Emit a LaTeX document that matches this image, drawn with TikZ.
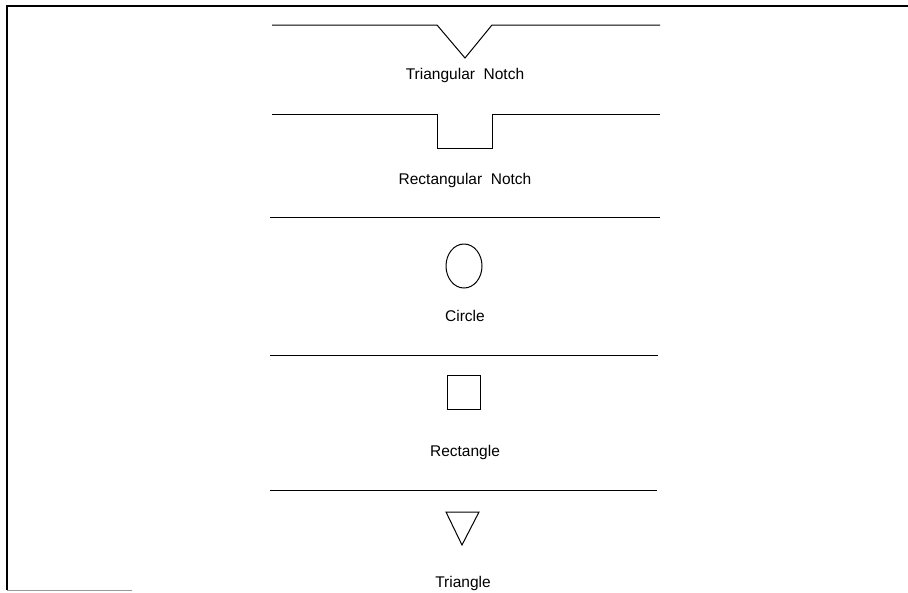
\documentclass[tikz,border=0pt]{standalone}
\usepackage{fontspec}
\setmainfont{Liberation Sans}
\usepackage{tikz}
\usetikzlibrary{positioning, calc}

\begin{document}
\begin{tikzpicture}[x=1pt, y=-1pt, line width=1pt,
  lbl/.style={font=\fontsize{15.5}{17}\selectfont, inner sep=0pt}]
  \useasboundingbox (0,0) rectangle (908,592);
  % frame
  \draw[line width=1.6pt] (908,6) -- (7,6) -- (7,590);
  \draw[black!40] (7,590) -- (132,590);
  % triangular notch
  \draw (272,25) -- (437,25) -- (465,58) -- (492,25) -- (660,25);
  \node[lbl] (trinotch) at (465,75) {Triangular\ \ Notch};
  % rectangular notch
  \draw (272,114) -- (437,114) -- (437,148) -- (492,148) -- (492,114) -- (660,114);
  \node[lbl] (rectnotch) at (465,180) {Rectangular\ \ Notch};
  % dividers
  \foreach \y/\e in {217/660, 355/658, 490/657}
    \draw (270,\y) -- (\e,\y);
  % circle
  \draw (464,266) ellipse [x radius=18, y radius=22];
  \node[lbl] (circ) at (465,316) {Circle};
  % rectangle
  \draw (447,375) rectangle (480,409);
  \node[lbl] (rect) at (465,452) {Rectangle};
  % triangle
  \draw (446,512) -- (479,512) -- (462,545) -- cycle;
  \node[lbl] (tri) at (463,583) {Triangle};
\end{tikzpicture}
\end{document}
